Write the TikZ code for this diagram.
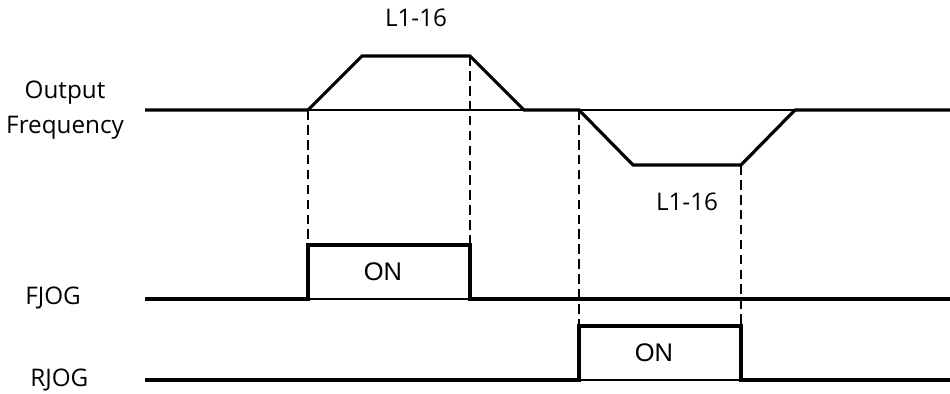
\documentclass[tikz,border=0pt]{standalone}
\usepackage{fontspec}
\setmainfont{Open Sans}
\newfontfamily\arialfont{Liberation Sans}
\begin{document}
\begin{tikzpicture}[x=0.02cm, y=-0.02cm]
  % Styles
  \tikzset{
    sig/.style={line width=1.8pt, line join=miter},
    base/.style={line width=0.6pt},
    guide/.style={line width=0.8pt, dash pattern=on 5.5pt off 3pt},
    lbl/.style={font=\fontsize{13.8}{20}\selectfont, inner sep=0pt},
    onlbl/.style={font=\arialfont\fontsize{14.5}{16}\selectfont, inner sep=0pt},
  }
  %
  % Layout constants (px)
  \def\xs{145}   % signal start
  \def\xe{950}   % signal end
  \def\ta{308}   % FJOG on
  \def\tb{470}   % FJOG off
  \def\tc{579}   % RJOG on
  \def\td{741}   % RJOG off
  \def\rw{54}    % ramp width
  \def\yf{110}   % freq zero level
  \def\yhi{56}   % forward jog level
  \def\ylo{165}  % reverse jog level
  \def\yfl{299}  \def\yfh{245}  % FJOG low / high
  \def\yrl{380}  \def\yrh{326}  % RJOG low / high
  %
  \useasboundingbox (0,0) rectangle (950,394);
  %
  % === LABELS ===
  \node[lbl, align=center] (outfreq) at (65,110) {Output\\Frequency};
  \node[lbl, anchor=west] (fjog) at (25,298) {FJOG};
  \node[lbl, anchor=west] (rjog) at (30,380) {RJOG};
  \node[lbl] (fwdtime) at (416,18) {L1-16};
  \node[lbl] (revtime) at (687,202) {L1-16};
  \node[onlbl] (fjon) at (383,272) {ON};
  \node[onlbl] (rjon) at (654,353) {ON};
  %
  % === OUTPUT FREQUENCY POINTS ===
  \coordinate (fq0) at (\xs,\yf);
  \coordinate (fq1) at (\ta,\yf);
  \coordinate (fq2) at (\ta+\rw,\yhi);
  \coordinate (fq3) at (\tb,\yhi);
  \coordinate (fq4) at (\tb+\rw,\yf);
  \coordinate (fq5) at (\tc,\yf);
  \coordinate (fq6) at (\tc+\rw,\ylo);
  \coordinate (fq7) at (\td,\ylo);
  \coordinate (fq8) at (\td+\rw,\yf);
  \coordinate (fq9) at (\xe,\yf);
  %
  % === FJOG / RJOG POINTS ===
  \coordinate (fj0) at (\xs,\yfl);
  \coordinate (fj1) at (\ta,\yfl);
  \coordinate (fj2) at (\ta,\yfh);
  \coordinate (fj3) at (\tb,\yfh);
  \coordinate (fj4) at (\tb,\yfl);
  \coordinate (fj5) at (\xe,\yfl);
  \coordinate (rj0) at (\xs,\yrl);
  \coordinate (rj1) at (\tc,\yrl);
  \coordinate (rj2) at (\tc,\yrh);
  \coordinate (rj3) at (\td,\yrh);
  \coordinate (rj4) at (\td,\yrl);
  \coordinate (rj5) at (\xe,\yrl);
  %
  % === BASE LINES ===
  \draw[base] (fq0) -- (fq9);
  \draw[base] (fj1) -- (fj4);
  \draw[base] (rj1) -- (rj4);
  %
  % === GUIDE LINES ===
  \draw[guide] (fq1) -- (fj2);
  \draw[guide] (fq3) -- (fj3);
  \draw[guide] (fq5) -- (rj2);
  \draw[guide] (fq7) -- (rj3);
  %
  % === SIGNALS ===
  \draw[sig] (fq0) -- (fq1) -- (fq2) -- (fq3) -- (fq4) -- (fq5)
             -- (fq6) -- (fq7) -- (fq8) -- (fq9);
  \draw[sig] (fj0) -- (fj1) -- (fj2) -- (fj3) -- (fj4) -- (fj5);
  \draw[sig] (rj0) -- (rj1) -- (rj2) -- (rj3) -- (rj4) -- (rj5);
  %
\end{tikzpicture}
\end{document}
